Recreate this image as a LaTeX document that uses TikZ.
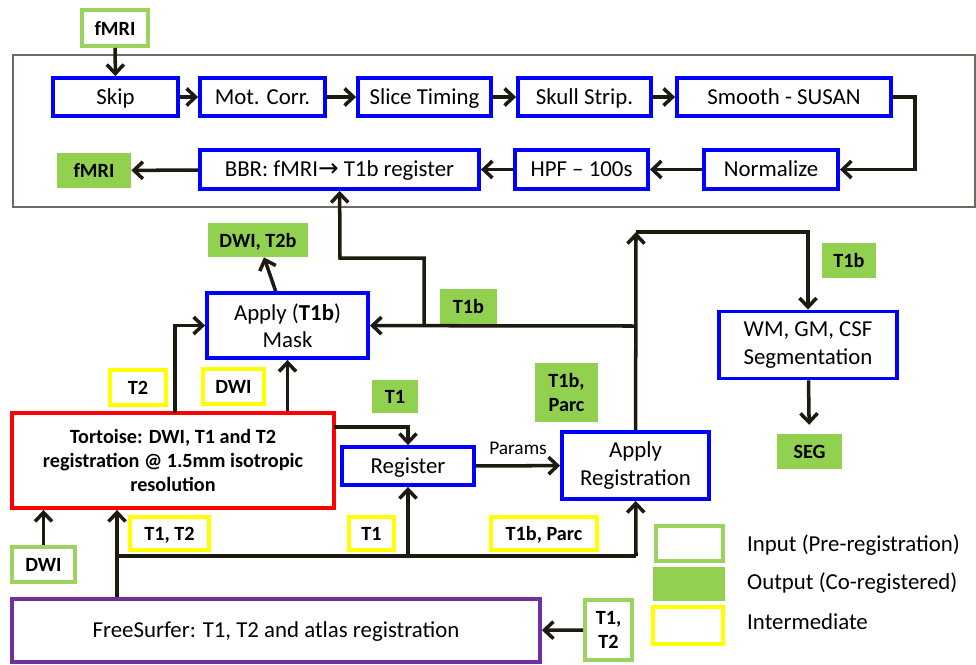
\documentclass[tikz,border=0pt]{standalone}
\usepackage{fontspec}
\setmainfont{Carlito}
\newfontfamily\arrowfont{DejaVu Sans}
\usetikzlibrary{arrows.meta}
\definecolor{procblue}{HTML}{0000FF}
\definecolor{tortred}{HTML}{FF0000}
\definecolor{fspurple}{HTML}{7030A0}
\definecolor{outgreen}{HTML}{92D050}
\definecolor{ingreen}{HTML}{9AD45E}
\definecolor{midyellow}{HTML}{FFFF00}
\definecolor{linedark}{HTML}{1E1A0F}
\definecolor{framegray}{HTML}{6E6A60}

\begin{document}
\begin{tikzpicture}[
		x=0.02cm, y=-0.02cm,
		procbox/.style={
		% The shape:
		rectangle,
		% The border:
		draw=procblue, line width=2.2pt,
		% The filling:
		fill=white,
		% Font
		font=\fontsize{13}{15.5}\selectfont,
		align=center, inner sep=0pt
		},
		oneline/.style={text height=1.9ex, text depth=0.22ex},
		inbox/.style={
		rectangle, draw=ingreen, line width=2.2pt, fill=white,
		font=\fontsize{11.5}{13.5}\selectfont\bfseries,
		align=center, inner sep=0pt
		},
		outbox/.style={
		rectangle, fill=outgreen,
		font=\fontsize{11.5}{13.5}\selectfont\bfseries,
		align=center, inner sep=0pt
		},
		midbox/.style={
		rectangle, draw=midyellow, line width=2.2pt, fill=white,
		font=\fontsize{11.5}{13.5}\selectfont\bfseries,
		align=center, inner sep=0pt
		},
		legtext/.style={
		anchor=west, font=\fontsize{13}{15.5}\selectfont
		},
		flow/.style={
		draw=linedark, line width=2pt,
		-{Straight Barb[length=1.8mm,width=3.4mm]}
		},
		plain/.style={
		draw=linedark, line width=2pt
		}
	]
	\useasboundingbox (0,0) rectangle (976,664);

	% fMRI pipeline
	\node (pipeline)[draw=framegray, line width=0.8pt, minimum width=19.24cm, minimum height=3.04cm, inner sep=0pt] at (494,131) {};
	\node (fmriin)[inbox, oneline, minimum width=1.32cm, minimum height=0.72cm] at (115,28) {fMRI};
	\node (skip)[procbox, oneline, minimum width=2.5cm, minimum height=0.76cm] at (115.5,97) {Skip};
	\node (motcorr)[procbox, oneline, minimum width=2.5cm, minimum height=0.76cm] at (262.5,97) {Mot. Corr.};
	\node (slicet)[procbox, oneline, minimum width=2.66cm, minimum height=0.76cm] at (424.5,97) {Slice Timing};
	\node (skull)[procbox, oneline, minimum width=2.66cm, minimum height=0.76cm] at (584.5,97) {Skull Strip.};
	\node (smooth)[procbox, oneline, minimum width=4.28cm, minimum height=0.76cm] at (784,97) {Smooth - SUSAN};
	\node (normal)[procbox, oneline, minimum width=2.68cm, minimum height=0.78cm] at (771,169.5) {Normalize};
	\node (hpf)[procbox, oneline, minimum width=2.66cm, minimum height=0.78cm] at (581.5,169.5) {HPF -- 100s};
	\node (bbr)[procbox, oneline, minimum width=5.58cm, minimum height=0.78cm] at (339.5,169.5) {BBR: fMRI{\arrowfont\fontsize{14}{15}\selectfont →} T1b register};
	\node (fmriout)[outbox, oneline, minimum width=1.48cm, minimum height=0.7cm] at (94,170.5) {fMRI};
	\coordinate (turn) at (915,97);

	% registration
	\node (mask)[procbox, minimum width=3.22cm, minimum height=1.3cm] at (287.5,325.5) {Apply (\textbf{T1b})\\Mask};
	\node (dwit2b)[outbox, oneline, minimum width=2cm, minimum height=0.68cm] at (258,240) {DWI, T2b};
	\node (t1ba)[outbox, oneline, minimum width=1.14cm, minimum height=0.7cm] at (468.5,306.5) {T1b};
	\node (t2mid)[midbox, oneline, minimum width=1.12cm, minimum height=0.7cm] at (138,387.5) {T2};
	\node (dwimid)[midbox, oneline, minimum width=1.22cm, minimum height=0.7cm] at (233.5,386.5) {DWI};
	\node (t1out)[outbox, oneline, minimum width=0.92cm, minimum height=0.66cm] at (395,396.5) {T1};
	\node (tortoise)[procbox, draw=tortred, font=\fontsize{11.5}{13.6}\selectfont\bfseries, minimum width=6.44cm, minimum height=1.9cm] at (173,460.5) {Tortoise: DWI, T1 and T2\\registration @ 1.5mm isotropic\\resolution};
	\node (register)[procbox, oneline, minimum width=2.64cm, minimum height=0.76cm] at (408,466) {Register};
	\node (applyreg)[procbox, minimum width=2.94cm, minimum height=1.34cm] at (635.5,465.5) {Apply\\Registration};
	\node (t1bparc)[outbox, minimum width=1.26cm, minimum height=1.18cm] at (566.5,392.5) {T1b,\\Parc};
	\node (seg)[procbox, minimum width=3.56cm, minimum height=1.34cm] at (808,345) {WM, GM, CSF\\Segmentation};
	\node (t1bb)[outbox, oneline, minimum width=1.08cm, minimum height=0.7cm] at (849,260.5) {T1b};
	\node (segout)[outbox, oneline, minimum width=1.3cm, minimum height=0.7cm] at (809.5,451.5) {SEG};
	\coordinate (top) at (636,232);
	\coordinate (jn) at (636,326);
	\coordinate (br1) at (424,326);
	\coordinate (br2) at (340,258);
	\coordinate (tl) at (175,413);
	\coordinate (tr) at (334,427);

	% FreeSurfer
	\node (fs)[procbox, oneline, draw=fspurple, minimum width=10.56cm, minimum height=1.26cm] at (276,630.5) {FreeSurfer: T1, T2 and atlas registration};
	\node (dwiin)[inbox, oneline, minimum width=1.26cm, minimum height=0.7cm] at (43.5,564.5) {DWI};
	\node (t1t2mid)[midbox, oneline, minimum width=1.58cm, minimum height=0.66cm] at (169.5,533.5) {T1, T2};
	\node (t1mid)[midbox, oneline, minimum width=0.9cm, minimum height=0.66cm] at (371.5,533.5) {T1};
	\node (t1bparcmid)[midbox, oneline, minimum width=2.12cm, minimum height=0.66cm] at (544,533.5) {T1b, Parc};
	\node (t1t2in)[inbox, minimum width=0.94cm, minimum height=1.2cm] at (608.5,630) {T1,\\T2};
	\coordinate (bus0) at (117,556);
	\coordinate (bus1) at (636,556);

	% legend
	\node (leg1)[inbox, minimum width=1.34cm, minimum height=0.7cm] at (689.5,543.5) {};
	\node (leg2)[outbox, minimum width=1.44cm, minimum height=0.68cm] at (689,584) {};
	\node (leg3)[midbox, minimum width=1.4cm, minimum height=0.74cm] at (688,625.5) {};
	\node (leg1txt)[legtext] at (741,545) {Input (Pre-registration)};
	\node (leg2txt)[legtext] at (741,583) {Output (Co-registered)};
	\node (leg3txt)[legtext] at (741,622) {Intermediate};

	% connectors
	\draw [flow] (fmriin) -- (skip);
	\draw [flow] (skip) -- (motcorr);
	\draw [flow] (motcorr) -- (slicet);
	\draw [flow] (slicet) -- (skull);
	\draw [flow] (skull) -- (smooth);
	\draw [flow] (smooth) -- (turn) |- (normal);
	\draw [flow] (normal) -- (hpf);
	\draw [flow] (hpf) -- (bbr);
	\draw [flow] (bbr) -- (fmriout);

	\draw [flow] (applyreg) -- (top);
	\draw [flow] (top) -| (seg);
	\draw [flow] (jn) -- (mask);
	\draw [flow] (br1) |- (br2) -- (bbr);
	\draw [flow] (mask) -- (dwit2b);
	\draw [flow] (tl) |- (mask);
	\draw [flow] (mask.south |- tortoise.north) -- (mask);
	\draw [flow] (tr) -| (register);
	\draw [flow] (register) -- node[above=2pt, font=\fontsize{11}{13}\selectfont] {Params} (applyreg);
	\draw [flow, shorten >=5pt] (seg) -- (segout);

	\draw [flow] (fs.north -| bus0) -- (tortoise.south -| bus0);
	\draw [plain] (bus0) -- (bus1);
	\draw [flow] (register.south |- bus0) -- (register);
	\draw [flow] (bus1) -- (applyreg);
	\draw [flow] (dwiin) -- (dwiin |- tortoise.south);
	\draw [flow] (t1t2in) -- (fs);
\end{tikzpicture}
\end{document}
